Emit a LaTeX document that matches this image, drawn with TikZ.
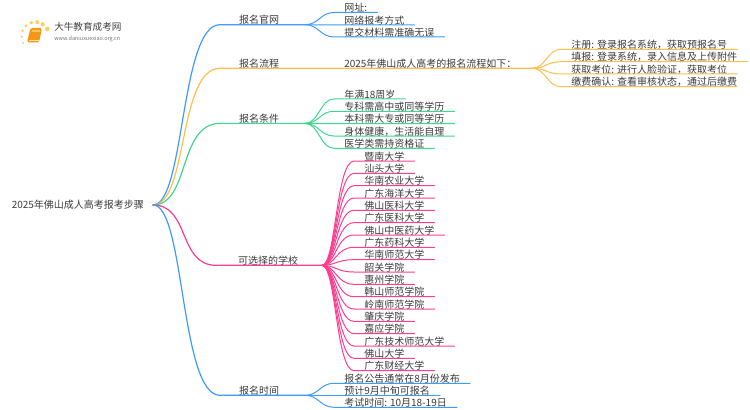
\documentclass[tikz,border=0pt]{standalone}
\usepackage{fontspec}
\setmainfont{Noto Sans CJK SC}
\definecolor{inkgray}{HTML}{3A3A3A}
\definecolor{linkblue}{HTML}{3D9BFF}
\definecolor{linkorange}{HTML}{FFBE4D}
\definecolor{linkgreen}{HTML}{3FD68F}
\definecolor{linkpink}{HTML}{FF3D8E}
\tikzset{
  label/.style={inner sep=0pt,font=\fontsize{7.5pt}{9pt}\selectfont,text=inkgray},
  kid/.style={label,anchor=south west,inner xsep=7.5pt,inner ysep=0.2pt,text height=6.4pt,text depth=0.3pt},
  trunk/.style={line width=0.9pt,line cap=round},
  twig/.style={line width=0.75pt,line cap=round},
}
\begin{document}
\begin{tikzpicture}[x=0.75pt,y=0.75pt,yscale=-1,xscale=1]
\useasboundingbox (0,0) rectangle (750,410);

%Shape: Logo
\fill [color={rgb, 255:red, 255; green, 205; blue, 100 }] (23,43) circle (1);
\fill [color={rgb, 255:red, 255; green, 205; blue, 100 }] (21.7,36.7) circle (1.2);
\fill [color={rgb, 255:red, 255; green, 205; blue, 100 }] (22.7,30.7) circle (1.4);
\fill [color={rgb, 255:red, 255; green, 205; blue, 100 }] (26,25.7) circle (1.6);
\fill [color={rgb, 255:red, 255; green, 205; blue, 100 }] (31.3,22.7) circle (1.9);
\fill [color={rgb, 255:red, 255; green, 205; blue, 100 }] (37.3,22) circle (2);
\fill [color={rgb, 255:red, 255; green, 205; blue, 100 }] (42.7,24.3) circle (2.1);
\fill [color={rgb, 255:red, 255; green, 205; blue, 100 }] (47.3,29) circle (2.3);
\fill [color={rgb, 255:red, 245; green, 150; blue, 20 },rounded corners=1.2pt] (30.5,28) -- (42,28) -- (39,42.5) -- (27,42.5) -- cycle;
\fill [color={rgb, 255:red, 255; green, 195; blue, 90 }] (32,30) -- (40.5,30) -- (40,32) -- (31.5,32) -- cycle;
\draw [color={rgb, 255:red, 255; green, 225; blue, 170 },line width=0.4pt] (28.5,40.5) -- (38.5,40.5);
\shade [left color=white,middle color={rgb, 255:red, 205; green, 205; blue, 205 },right color=white] (45,32.8) rectangle (133,33.6);

% Text Node
\draw (54,27) node (brand) [label,anchor=west,text=black!75] {\fontsize{7.2pt}{9pt}\selectfont 大牛教育成考网};
% Text Node
\draw (54,38.7) node (brandurl) [label,anchor=west,text=black!55] {\fontsize{4.1pt}{5pt}\selectfont www.daniuxuexiao.org.cn};

% Text Node
\draw (11.5,205) node (root) [label,anchor=west] {2025年佛山成人高考报考步骤};
\coordinate (rootfork) at (153,205);

% Text Node
\draw (259,20) node (guanwang) [label] {报名官网};
\draw (259,63.5) node (liucheng) [label] {报名流程};
\draw (259,119) node (tiaojian) [label] {报名条件};
\draw (268,261) node (xuexiao) [label] {可选择的学校};
\draw (259,391) node (shijian) [label] {报名时间};

\coordinate (guanwangin) at (220,24.7);
\coordinate (guanwangfork) at (305,24.7);
\coordinate (liuchengin) at (220,68.3);
\coordinate (liuchengfork) at (532,68.3);
\coordinate (tiaojianin) at (220,123.4);
\coordinate (tiaojianfork) at (305,123.4);
\coordinate (xuexiaoin) at (216,265.3);
\coordinate (xuexiaofork) at (322,265.3);
\coordinate (shijianin) at (220,395.3);
\coordinate (shijianfork) at (305,395.3);

% Trunks
\draw [trunk,linkblue] (rootfork) .. controls (185,205) and (180,24.7) .. (guanwangin) -- (guanwangfork);
\draw [trunk,linkorange] (rootfork) .. controls (188,205) and (178,68.3) .. (liuchengin) -- (liuchengfork);
\draw [trunk,linkgreen] (rootfork) .. controls (190,205) and (178,123.4) .. (tiaojianin) -- (tiaojianfork);
\draw [trunk,linkpink] (rootfork) .. controls (190,205) and (178,265.3) .. (xuexiaoin) -- (xuexiaofork);
\draw [trunk,linkblue] (rootfork) .. controls (185,205) and (180,395.3) .. (shijianin) -- (shijianfork);

% Text Node
\draw (334,12.5) node (wangzhi) [kid] {网址:};
\draw (334,25) node (baokao) [kid] {网络报考方式};
\draw (334,37) node (cailiao) [kid] {提交材料需准确无误};
\draw [twig,linkblue] (guanwangfork) .. controls +(14,0) and +(-14,0) .. (wangzhi.south west) -- (wangzhi.south east);
\draw [twig,linkblue] (guanwangfork) .. controls +(14,0) and +(-14,0) .. (baokao.south west) -- (baokao.south east);
\draw [twig,linkblue] (guanwangfork) .. controls +(14,0) and +(-14,0) .. (cailiao.south west) -- (cailiao.south east);

% Text Node
\draw (334,68.3) node (liuchengtext) [kid] {2025年佛山成人高考的报名流程如下：};
\draw (561,49.3) node (zhuce) [kid] {注册: 登录报名系统，获取预报名号};
\draw (561,61.7) node (tianbao) [kid] {填报: 登录系统，录入信息及上传附件};
\draw (561,74) node (huoqu) [kid] {获取考位: 进行人脸验证，获取考位};
\draw (561,86.7) node (jiaofei) [kid] {缴费确认: 查看审核状态，通过后缴费};
\coordinate (jiaofeiend) at (737,86.7);
\draw [twig,linkorange] (liuchengfork) .. controls +(14,0) and +(-14,0) .. (zhuce.south west) -- (zhuce.south east);
\draw [twig,linkorange] (liuchengfork) .. controls +(14,0) and +(-14,0) .. (tianbao.south west) -- (tianbao.south east);
\draw [twig,linkorange] (liuchengfork) .. controls +(14,0) and +(-14,0) .. (huoqu.south west) -- (huoqu.south east);
\draw [twig,linkorange] (liuchengfork) .. controls +(14,0) and +(-14,0) .. (jiaofei.south west) -- (jiaofeiend);

% Text Node
\draw (334,99) node (nianling) [kid] {年满18周岁};
\draw (334,111.3) node (zhuanke) [kid] {专科需高中或同等学历};
\draw (334,123.7) node (benke) [kid] {本科需大专或同等学历};
\draw (334,136) node (shenti) [kid] {身体健康，生活能自理};
\draw (334,148.3) node (yixue) [kid] {医学类需持资格证};
\draw [twig,linkgreen] (tiaojianfork) .. controls +(14,0) and +(-14,0) .. (nianling.south west) -- (nianling.south east);
\draw [twig,linkgreen] (tiaojianfork) .. controls +(14,0) and +(-14,0) .. (zhuanke.south west) -- (zhuanke.south east);
\draw [twig,linkgreen] (tiaojianfork) .. controls +(14,0) and +(-14,0) .. (benke.south west) -- (benke.south east);
\draw [twig,linkgreen] (tiaojianfork) .. controls +(14,0) and +(-14,0) .. (shenti.south west) -- (shenti.south east);
\draw [twig,linkgreen] (tiaojianfork) .. controls +(14,0) and +(-14,0) .. (yixue.south west) -- (yixue.south east);

% Text Node
\draw (354,161) node (jinan) [kid] {暨南大学};
\draw (354,173.3) node (shantou) [kid] {汕头大学};
\draw (354,185.7) node (huanong) [kid] {华南农业大学};
\draw (354,198) node (haiyang) [kid] {广东海洋大学};
\draw (354,210.3) node (fsyike) [kid] {佛山医科大学};
\draw (354,222.7) node (gdyike) [kid] {广东医科大学};
\draw (354,235) node (zhongyi) [kid] {佛山中医药大学};
\draw (354,247.3) node (yaoke) [kid] {广东药科大学};
\draw (354,259.7) node (huashi) [kid] {华南师范大学};
\draw (354,272) node (shaoguan) [kid] {韶关学院};
\draw (354,284.3) node (huizhou) [kid] {惠州学院};
\draw (354,296.7) node (hanshan) [kid] {韩山师范学院};
\draw (354,309) node (lingnan) [kid] {岭南师范学院};
\draw (354,321.3) node (zhaoqing) [kid] {肇庆学院};
\draw (354,333.7) node (jiaying) [kid] {嘉应学院};
\draw (354,346) node (jishu) [kid] {广东技术师范大学};
\draw (354,358.3) node (fsdaxue) [kid] {佛山大学};
\draw (354,370.7) node (caijing) [kid] {广东财经大学};
\draw [twig,linkpink] (xuexiaofork) .. controls +(14,0) and +(-18,0) .. (jinan.south west) -- (jinan.south east);
\draw [twig,linkpink] (xuexiaofork) .. controls +(14,0) and +(-18,0) .. (shantou.south west) -- (shantou.south east);
\draw [twig,linkpink] (xuexiaofork) .. controls +(14,0) and +(-18,0) .. (huanong.south west) -- (huanong.south east);
\draw [twig,linkpink] (xuexiaofork) .. controls +(14,0) and +(-18,0) .. (haiyang.south west) -- (haiyang.south east);
\draw [twig,linkpink] (xuexiaofork) .. controls +(14,0) and +(-18,0) .. (fsyike.south west) -- (fsyike.south east);
\draw [twig,linkpink] (xuexiaofork) .. controls +(14,0) and +(-18,0) .. (gdyike.south west) -- (gdyike.south east);
\draw [twig,linkpink] (xuexiaofork) .. controls +(14,0) and +(-18,0) .. (zhongyi.south west) -- (zhongyi.south east);
\draw [twig,linkpink] (xuexiaofork) .. controls +(14,0) and +(-18,0) .. (yaoke.south west) -- (yaoke.south east);
\draw [twig,linkpink] (xuexiaofork) .. controls +(14,0) and +(-18,0) .. (huashi.south west) -- (huashi.south east);
\draw [twig,linkpink] (xuexiaofork) .. controls +(14,0) and +(-18,0) .. (shaoguan.south west) -- (shaoguan.south east);
\draw [twig,linkpink] (xuexiaofork) .. controls +(14,0) and +(-18,0) .. (huizhou.south west) -- (huizhou.south east);
\draw [twig,linkpink] (xuexiaofork) .. controls +(14,0) and +(-18,0) .. (hanshan.south west) -- (hanshan.south east);
\draw [twig,linkpink] (xuexiaofork) .. controls +(14,0) and +(-18,0) .. (lingnan.south west) -- (lingnan.south east);
\draw [twig,linkpink] (xuexiaofork) .. controls +(14,0) and +(-18,0) .. (zhaoqing.south west) -- (zhaoqing.south east);
\draw [twig,linkpink] (xuexiaofork) .. controls +(14,0) and +(-18,0) .. (jiaying.south west) -- (jiaying.south east);
\draw [twig,linkpink] (xuexiaofork) .. controls +(14,0) and +(-18,0) .. (jishu.south west) -- (jishu.south east);
\draw [twig,linkpink] (xuexiaofork) .. controls +(14,0) and +(-18,0) .. (fsdaxue.south west) -- (fsdaxue.south east);
\draw [twig,linkpink] (xuexiaofork) .. controls +(14,0) and +(-18,0) .. (caijing.south west) -- (caijing.south east);

% Text Node
\draw (334,383.3) node (gonggao) [kid] {报名公告通常在8月份发布};
\draw (334,395.3) node (xunzhong) [kid] {预计9月中旬可报名};
\draw (334,407.3) node (kaoshi) [kid] {考试时间: 10月18-19日};
\draw [twig,linkblue] (shijianfork) .. controls +(14,0) and +(-14,0) .. (gonggao.south west) -- (gonggao.south east);
\draw [twig,linkblue] (shijianfork) .. controls +(14,0) and +(-14,0) .. (xunzhong.south west) -- (xunzhong.south east);
\draw [twig,linkblue] (shijianfork) .. controls +(14,0) and +(-14,0) .. (kaoshi.south west) -- (kaoshi.south east);

\end{tikzpicture}
\end{document}
